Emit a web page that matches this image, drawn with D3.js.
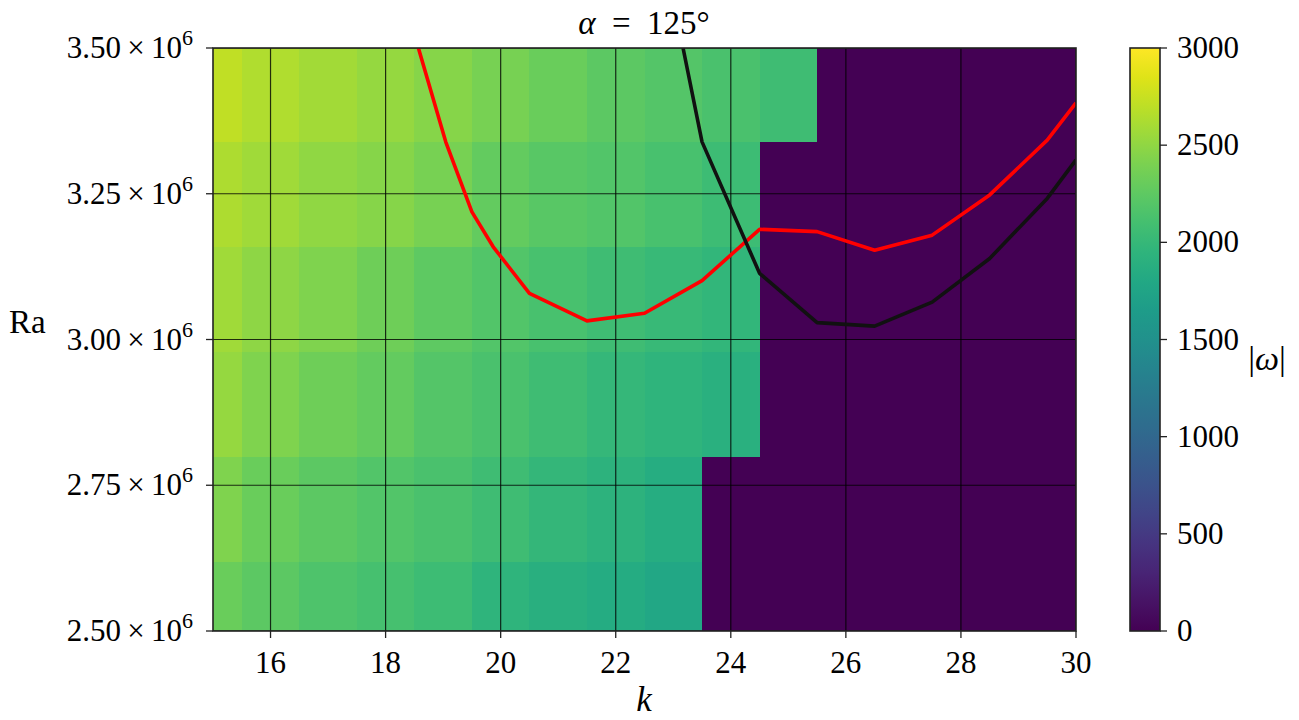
<!DOCTYPE html>
<html>
<head>
<meta charset="utf-8">
<script src="https://cdn.jsdelivr.net/npm/d3@7"></script>
<style>
  body { margin: 0; background: #fff; }
  text { font-family: "Liberation Serif", "DejaVu Serif", serif; fill: #000; }
</style>
</head>
<body>
<div id="chart"></div>
<script>
// wavenumber k (cell centres) and Rayleigh number rows (cell centres)
let kValues = [15, 16, 17, 18, 19, 20, 21, 22, 23, 24, 25, 26, 27, 28, 29, 30];
let raValues = [2.53e6, 2.71e6, 2.89e6, 3.07e6, 3.25e6, 3.43e6];
let raStep = 0.18e6;

// |omega| per row (bottom -> top), per k column
let omega = [
  [2320, 2245, 2165, 2110, 2055, 1955, 1895, 1845, 1790, 0, 0, 0, 0, 0, 0, 0],
  [2420, 2320, 2245, 2185, 2135, 2070, 1990, 1925, 1855, 0, 0, 0, 0, 0, 0, 0],
  [2520, 2420, 2335, 2275, 2200, 2135, 2070, 2000, 1955, 1900, 0, 0, 0, 0, 0, 0],
  [2570, 2490, 2425, 2335, 2250, 2180, 2125, 2070, 2020, 1970, 0, 0, 0, 0, 0, 0],
  [2630, 2575, 2500, 2455, 2385, 2285, 2220, 2180, 2125, 2055, 0, 0, 0, 0, 0, 0],
  [2715, 2640, 2580, 2520, 2460, 2390, 2320, 2245, 2200, 2135, 2065, 0, 0, 0, 0, 0]
];

// red curve
let redK  = [18.57, 19.045, 19.5, 19.87, 20.5, 21.5, 22.5, 23.5, 24.5, 25.5, 26.5, 27.5, 28.5, 29.5, 30.0];
let redRa = [3.50e6, 3.339e6, 3.219e6, 3.159e6, 3.079e6, 3.032e6, 3.045e6, 3.101e6, 3.189e6, 3.185e6, 3.153e6, 3.179e6, 3.248e6, 3.342e6, 3.406e6];

// black curve
let blackK  = [23.17, 23.5, 24.5, 25.5, 26.5, 27.5, 28.5, 29.5, 30.0];
let blackRa = [3.50e6, 3.339e6, 3.1135e6, 3.029e6, 3.023e6, 3.064e6, 3.139e6, 3.242e6, 3.308e6];

let xTicks = [16, 18, 20, 22, 24, 26, 28, 30];
let yTicks = [2.5e6, 2.75e6, 3.0e6, 3.25e6, 3.5e6];
let yTickLabels = ["2.50", "2.75", "3.00", "3.25", "3.50"];
let cbTicks = [0, 500, 1000, 1500, 2000, 2500, 3000];

let W = 1299, H = 720;
let pLeft = 213, pRight = 1076, pTop = 48, pBottom = 631;
let cbLeft = 1130, cbRight = 1160;

let svg = d3.select("#chart").append("svg")
  .attr("width", W)
  .attr("height", H);

let x = d3.scaleLinear().domain([15, 30]).range([pLeft, pRight]);
let y = d3.scaleLinear().domain([2.5e6, 3.5e6]).range([pBottom, pTop]);
let color = d3.scaleSequential(d3.interpolateViridis).domain([0, 3000]);

let defs = svg.append("defs");
defs.append("clipPath").attr("id", "plotclip")
  .append("rect")
  .attr("x", pLeft).attr("y", pTop)
  .attr("width", pRight - pLeft).attr("height", pBottom - pTop);

let plot = svg.append("g").attr("clip-path", "url(#plotclip)");

// heatmap cells
let cells = [];
raValues.forEach((ra, i) => {
  kValues.forEach((k, j) => {
    cells.push({k: k, ra: ra, v: omega[i][j]});
  });
});

plot.selectAll("rect.cell")
  .data(cells)
  .enter()
  .append("rect")
  .attr("class", "cell")
  .attr("x", d => x(d.k - 0.5))
  .attr("width", d => x(d.k + 0.5) - x(d.k - 0.5) + 0.5)
  .attr("y", d => y(d.ra + raStep / 2))
  .attr("height", d => y(d.ra - raStep / 2) - y(d.ra + raStep / 2) + 0.5)
  .attr("fill", d => color(d.v))
  .attr("shape-rendering", "crispEdges");

// grid
plot.selectAll("line.vgrid")
  .data(xTicks)
  .enter()
  .append("line")
  .attr("x1", d => x(d)).attr("x2", d => x(d))
  .attr("y1", pTop).attr("y2", pBottom)
  .style("stroke", "#000")
  .style("stroke-opacity", 0.8)
  .style("stroke-width", 1.2);

plot.selectAll("line.hgrid")
  .data(yTicks)
  .enter()
  .append("line")
  .attr("y1", d => y(d)).attr("y2", d => y(d))
  .attr("x1", pLeft).attr("x2", pRight)
  .style("stroke", "#000")
  .style("stroke-opacity", 0.8)
  .style("stroke-width", 1.2);

// curves
let line = d3.line().x(d => x(d[0])).y(d => y(d[1]));

plot.append("path")
  .datum(redK.map((k, i) => [k, redRa[i]]))
  .attr("d", line)
  .style("fill", "none")
  .style("stroke", "#ff0000")
  .style("stroke-width", 3.6)
  .style("stroke-linejoin", "round");

plot.append("path")
  .datum(blackK.map((k, i) => [k, blackRa[i]]))
  .attr("d", line)
  .style("fill", "none")
  .style("stroke", "#111")
  .style("stroke-width", 3.6)
  .style("stroke-linejoin", "round");

// frame
svg.append("rect")
  .attr("x", pLeft).attr("y", pTop)
  .attr("width", pRight - pLeft).attr("height", pBottom - pTop)
  .style("fill", "none")
  .style("stroke", "#222")
  .style("stroke-width", 1.6);

// x ticks
svg.selectAll("line.xtick")
  .data(xTicks)
  .enter()
  .append("line")
  .attr("x1", d => x(d)).attr("x2", d => x(d))
  .attr("y1", pBottom).attr("y2", pBottom + 7)
  .style("stroke", "#222")
  .style("stroke-width", 1.3);

svg.selectAll("text.xlabel")
  .data(xTicks)
  .enter()
  .append("text")
  .attr("x", d => x(d))
  .attr("y", pBottom + 42)
  .attr("text-anchor", "middle")
  .style("font-size", "31px")
  .text(d => d);

// y ticks
svg.selectAll("line.ytick")
  .data(yTicks)
  .enter()
  .append("line")
  .attr("x1", pLeft - 7).attr("x2", pLeft)
  .attr("y1", d => y(d)).attr("y2", d => y(d))
  .style("stroke", "#222")
  .style("stroke-width", 1.3);

let ylab = svg.selectAll("text.ylabel")
  .data(yTicks)
  .enter()
  .append("text")
  .attr("x", 193)
  .attr("y", d => y(d) + 10)
  .attr("text-anchor", "end")
  .style("font-size", "31px");

ylab.append("tspan").text((d, i) => yTickLabels[i] + "\u2009×\u200910");
ylab.append("tspan")
  .attr("dy", -13)
  .style("font-size", "22px")
  .text("6");

// axis titles
svg.append("text")
  .attr("x", 644)
  .attr("y", 711)
  .attr("text-anchor", "middle")
  .style("font-size", "35px")
  .style("font-style", "italic")
  .text("k");

svg.append("text")
  .attr("x", 9)
  .attr("y", 333)
  .style("font-size", "33px")
  .text("Ra");

let title = svg.append("text")
  .attr("x", 644)
  .attr("y", 34)
  .attr("text-anchor", "middle")
  .style("font-size", "33px");
title.append("tspan").style("font-style", "italic").text("α");
title.append("tspan").text("\u2002=\u2002125°");

// colorbar
let cbY = d3.scaleLinear().domain([0, 3000]).range([pBottom, pTop]);
let grad = defs.append("linearGradient")
  .attr("id", "viridisGrad")
  .attr("x1", "0%").attr("y1", "100%")
  .attr("x2", "0%").attr("y2", "0%");
d3.range(0, 1.0001, 0.05).forEach(t => {
  grad.append("stop")
    .attr("offset", (t * 100) + "%")
    .attr("stop-color", d3.interpolateViridis(t));
});

svg.append("rect")
  .attr("x", cbLeft).attr("y", pTop)
  .attr("width", cbRight - cbLeft).attr("height", pBottom - pTop)
  .style("fill", "url(#viridisGrad)")
  .style("stroke", "#222")
  .style("stroke-width", 1.6);

svg.selectAll("line.cbtick")
  .data(cbTicks)
  .enter()
  .append("line")
  .attr("x1", cbRight).attr("x2", cbRight + 7)
  .attr("y1", d => cbY(d)).attr("y2", d => cbY(d))
  .style("stroke", "#222")
  .style("stroke-width", 1.3);

svg.selectAll("text.cblabel")
  .data(cbTicks)
  .enter()
  .append("text")
  .attr("x", 1177)
  .attr("y", d => cbY(d) + 10)
  .style("font-size", "31px")
  .text(d => d);

svg.append("text")
  .attr("x", 1267)
  .attr("y", 370)
  .attr("text-anchor", "middle")
  .style("font-size", "34px")
  .html('|<tspan style="font-style:italic">ω</tspan>|');
</script>
</body>
</html>
